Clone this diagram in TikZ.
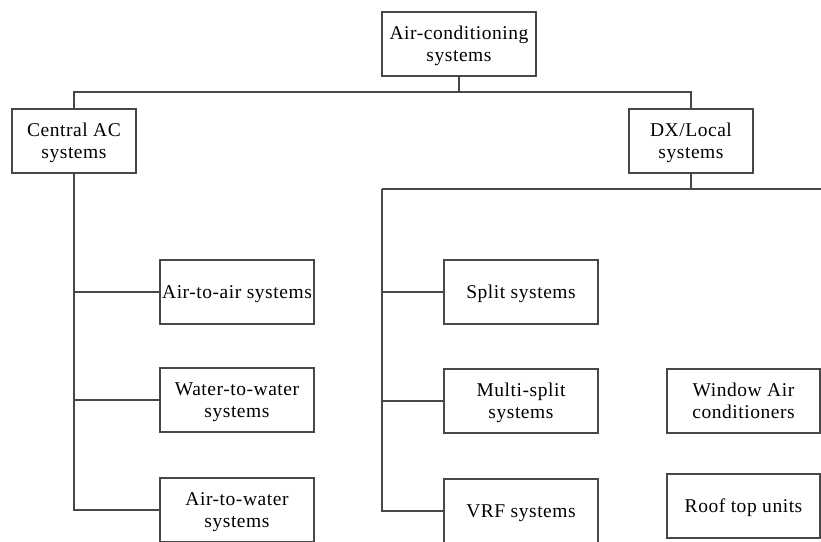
\documentclass[tikz,border=0pt]{standalone}
\usepackage{fontspec}
\setmainfont{Liberation Serif}
\newfontfamily\boxfont[LetterSpace=2.8]{Liberation Serif}
% centred label, set a little below the middle of its box
\newcommand\lbl[1]{\raisebox{-2.5pt}[\height][\depth]{\begin{tabular}{@{}c@{}}#1\end{tabular}}}
\begin{document}
\begin{tikzpicture}[x=1pt,y=-1pt,
  box/.style={draw=black!72, line width=1.6pt, fill=white, minimum height=64pt,
    minimum width=154pt, inner sep=0pt,
    font=\boxfont\fontsize{19.5}{22}\selectfont},
  wire/.style={draw=black!72, line width=1.6pt}]
  \useasboundingbox (0,0) rectangle (821,541);
  \clip (0,0) rectangle (821,541);

  % root and the two families
  \node[box] (root) at (459,44) {\lbl{Air-conditioning\\systems}};
  \node[box, minimum width=124pt] (central) at (74,141) {\lbl{Central AC\\systems}};
  \node[box, minimum width=124pt] (dx) at (691,141) {\lbl{DX/Local\\systems}};

  % central systems
  \node[box] (a2a) at (237,292) {\lbl{Air-to-air systems}};
  \node[box] (w2w) at (237,400) {\lbl{Water-to-water\\systems}};
  \node[box] (a2w) at (237,510) {\lbl{Air-to-water\\systems}};

  % local systems
  \node[box] (split) at (521,292) {\lbl{Split systems}};
  \node[box] (multi) at (521,401) {\lbl{Multi-split\\systems}};
  \node[box] (vrf) at (521,511) {\lbl{VRF systems}};
  \node[box, minimum width=153pt] (window) at (743.5,401) {\lbl{Window Air\\conditioners}};
  \node[box, minimum width=153pt] (roof) at (743.5,506) {\lbl{Roof top units}};

  % top-level bus
  \coordinate (bus1) at (459,92);
  \draw[wire] (root.south) -- (bus1);
  \draw[wire] (central.north) |- (bus1) -| (dx.north);

  % central spine
  \draw[wire] (central.south) |- (a2a.west);
  \draw[wire] (central.south) |- (w2w.west);
  \draw[wire] (central.south) |- (a2w.west);

  % local bus and spine
  \coordinate (bus2) at (691,189);
  \coordinate (spine) at (382,189);
  \coordinate (busend) at (821,189);
  \draw[wire] (dx.south) -- (bus2);
  \draw[wire] (spine) -- (busend);
  \draw[wire] (spine) |- (split.west);
  \draw[wire] (spine) |- (multi.west);
  \draw[wire] (spine) |- (vrf.west);
\end{tikzpicture}
\end{document}
